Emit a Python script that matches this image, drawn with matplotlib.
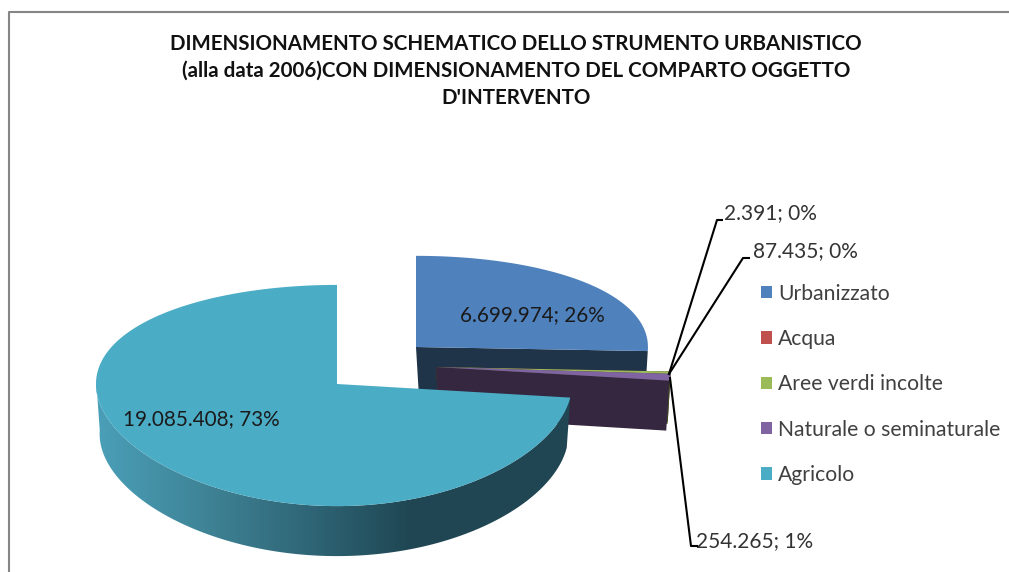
#!/usr/bin/env python3
import numpy as np
import matplotlib
matplotlib.use("Agg")
import matplotlib.pyplot as plt
from matplotlib.patches import Patch,Polygon
from matplotlib.colors import LinearSegmentedColormap

plt.rcParams["font.family"]=["Lato","DejaVu Sans"]

categorie=["Urbanizzato","Acqua","Aree verdi incolte","Naturale o seminaturale","Agricolo"]
valori=[6699974,2391,87435,254265,19085408]
percentuali=[26,0,0,1,73]
colori=["#4f81bd","#c0504d","#9bbb59","#8064a2","#4bacc6"]
titolo=("DIMENSIONAMENTO SCHEMATICO DELLO STRUMENTO URBANISTICO\n"
        "(alla data 2006)CON DIMENSIONAMENTO DEL COMPARTO OGGETTO\n"
        "D'INTERVENTO")

# apice di ogni fetta (pixel) e forma dell'ellisse
apici=[(416,347),(436,367),(436,367),(436,367),(337,384)]
scala_x=[0.987,1,1,1,1]
scala_y=[0.92,1,1,1,1]
RX=238;RY=109.4;K=0.104;H=50

def etichetta(v,p):
    return f"{v:,}".replace(",",".")+f"; {p}%"

def bordo(th,c,dz=0,sc=1.0,sy=1.0):
    # th in gradi, senso orario da ore 12
    X=np.sin(np.radians(th));Y=np.cos(np.radians(th))
    x=c[0]+sc*(RX*X-3*X*X)
    y=c[1]-sy*RY*Y/(1+K*Y)+dz
    return x,y

fig=plt.figure(figsize=(10.09,5.72),dpi=100)
ax=fig.add_axes([0,0,1,1])

# cornice
ax.plot([9,9,1009],[572,12,12],color="#868686",lw=1.5,zorder=1)

tot=sum(valori)
fine=np.cumsum(valori)/tot*360
ini=np.r_[0,fine[:-1]]

# pareti di taglio
scuri=["#1f3349","#4a2a2a","#3f4c26","#35273f"]
for i in [0,1,2,3]:
    c=apici[i]
    xe,ye=bordo(fine[i],c,sc=scala_x[i],sy=scala_y[i])
    ax.fill([c[0],xe,xe-3,c[0]+3],[c[1],ye,ye+H,c[1]+H],color=scuri[i],lw=0,zorder=2+i*0.1)

# facce superiori delle fette piccole e di Urbanizzato
for i in [0,1,2,3]:
    c=apici[i]
    th=np.linspace(ini[i],fine[i],120)
    x,y=bordo(th,c,sc=scala_x[i],sy=scala_y[i])
    ax.fill(np.r_[c[0],x],np.r_[c[1],y],color=colori[i],lw=0,zorder=3)

# parete esterna di Agricolo con sfumatura
c=apici[4]
th=np.linspace(ini[4],272,260)
x0,y0=bordo(th,c)
x1,y1=bordo(th,c,dz=H,sc=0.985)
cm=LinearSegmentedColormap.from_list("par",["#4a9fb8","#3f8497","#2f6677","#1f4652"])
grad=np.clip((np.arange(90,580)-97)/(413-97),0,1)
im=ax.imshow(grad[None,:],extent=(90,580,560,380),cmap=cm,vmin=0,vmax=1,aspect="auto",zorder=4)
bordo_par=Polygon(np.c_[np.r_[x0,x1[::-1]],np.r_[y0,y1[::-1]]],closed=True,transform=ax.transData)
im.set_clip_path(bordo_par)

th=np.linspace(ini[4],fine[4],400)
x,y=bordo(th,c)
ax.fill(np.r_[c[0],x],np.r_[c[1],y],color=colori[4],lw=0,zorder=5)

ax.set_xlim(0,1009);ax.set_ylim(572,0);ax.axis("off")

# etichette interne
ax.text(532,315,etichetta(valori[0],percentuali[0]),fontsize=14.9,color="#1a1a1a",ha="center",va="center",zorder=7)
ax.text(201,419,etichetta(valori[4],percentuali[4]),fontsize=14.9,color="#1a1a1a",ha="center",va="center",zorder=7)

# linee guida
ax.plot([669,717,722],[374,220,220],color="black",lw=1.5,zorder=6)
ax.plot([669,743,749],[374,258,258],color="black",lw=1.5,zorder=6)
ax.plot([670,691,697],[378,546,546],color="black",lw=1.5,zorder=6)
ax.text(724,213,etichetta(valori[1],percentuali[1]),fontsize=15,color="#333333",ha="left",va="center")
ax.text(753,251,etichetta(valori[2],percentuali[2]),fontsize=15,color="#333333",ha="left",va="center")
ax.text(696,541,etichetta(valori[3],percentuali[3]),fontsize=15,color="#333333",ha="left",va="center")

ax.text(516,71,titolo,fontsize=14.75,fontweight="bold",color="#111111",ha="center",va="center",linespacing=1.42)

maniglie=[Patch(facecolor=k,edgecolor="none") for k in colori]
ax.legend(maniglie,categorie,loc="upper left",bbox_to_anchor=(761/1009,1-283.5/572),
          bbox_transform=fig.transFigure,frameon=False,fontsize=15.2,labelcolor="#404040",
          handlelength=0.52,handleheight=0.52,handletextpad=0.28,labelspacing=1.2,borderpad=0,borderaxespad=0)

fig.savefig("out.png",dpi=100)
